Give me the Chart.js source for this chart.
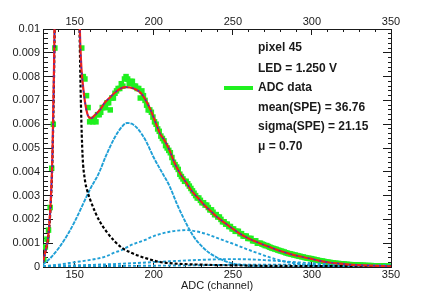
<!DOCTYPE html>
<html>
<head>
<meta charset="utf-8">
<script src="https://cdn.jsdelivr.net/npm/chart.js@4.4.1/dist/chart.umd.min.js"></script>
<style>
  html, body { margin: 0; padding: 0; background: #fff; }
  #wrap { width: 436px; height: 297px; }
</style>
</head>
<body>
<div id="wrap"><canvas id="spe"></canvas></div>
<script>
// ADC histogram, one bin per channel, first bin centre at 130.5 (null = off scale)
const firstBin = 130.5;
const adcCounts = [
  0.0003, 0.00084, 0.00117, 0.00155, 0.0025, 0.00415, 0.006, 0.0092,          // 130.5 - 137.5
  null, null, null, null, null, null, null, null,                             // 138.5 - 145.5
  null, null, null, null, null, null, null, null,                             // 146.5 - 153.5
  0.0092, 0.0080, 0.0079, 0.0072, 0.0067, 0.0061,                             // 154.5 - 159.5
  0.0062, 0.0061, 0.0062, 0.0061, 0.0064, 0.0064, 0.0065, 0.0067, 0.0067, 0.0067, // 160.5 -
  0.0069, 0.0069, 0.0066, 0.0071, 0.0071, 0.0073, 0.0074, 0.0075, 0.0075, 0.0077, // 170.5 -
  0.0076, 0.0079, 0.0080, 0.0079, 0.0077, 0.0078, 0.0078, 0.0076, 0.0076, 0.0075, // 180.5 -
  0.0075, 0.0071, 0.0074, 0.0072, 0.0070, 0.0068, 0.0066, 0.0066, 0.0065, 0.0063, // 190.5 -
  0.0061, 0.0060, 0.0058, 0.0057, 0.0055, 0.0054, 0.0053, 0.0051, 0.0050, 0.0049, // 200.5 -
  0.0048, 0.0046, 0.0044, 0.0043, 0.0042, 0.0041, 0.0039, 0.0038, 0.0037, 0.0036, // 210.5 -
  0.0036, 0.0035, 0.0034, 0.0033, 0.0032, 0.0031, 0.0030, 0.0029, 0.0029, 0.0028, // 220.5 -
  0.0027, 0.0027, 0.0026, 0.0026, 0.0025, 0.0024, 0.0024, 0.0023, 0.0022, 0.0022, // 230.5 -
  0.0021, 0.0021, 0.0020, 0.0019, 0.0019, 0.0018, 0.0018, 0.0017, 0.0017, 0.0016, // 240.5 -
  0.0016, 0.0015, 0.0015, 0.0015, 0.0014, 0.0014, 0.0013, 0.0013, 0.0013, 0.0012, // 250.5 -
  0.0012, 0.0012, 0.0011, 0.0011, 0.0011, 0.0010, 0.0010, 0.0010, 0.00096, 0.00094, // 260.5 -
  0.0009, 0.0009, 0.00086, 0.00083, 0.0008, 0.00078, 0.00076, 0.00074, 0.00071, 0.00069, // 270.5 -
  0.00067, 0.00065, 0.00063, 0.0006, 0.00058, 0.00056, 0.00055, 0.00053, 0.00051, 0.0005, // 280.5 -
  0.00048, 0.00046, 0.00045, 0.00043, 0.00042, 0.0004, 0.00038, 0.00037, 0.00036, 0.00035, // 290.5 -
  0.00033, 0.00032, 0.0003, 0.00029, 0.00027, 0.00026, 0.00025, 0.00024, 0.00022, 0.00021, // 300.5 -
  0.0002, 0.00019, 0.00018, 0.00017, 0.00016, 0.00015, 0.00015, 0.00014, 0.00013, 0.00013, // 310.5 -
  0.00012, 0.00011, 0.00011, 0.0001, 0.0001, 0.00009, 0.00009, 0.00009, 0.00008, 0.00008, // 320.5 -
  0.00008, 0.00007, 0.00007, 0.00007, 0.00006, 0.00006, 0.00006, 0.00006, 0.00005, 0.00005, // 330.5 -
  0.00005, 0.00005, 0.00004, 0.00004, 0.00004, 0.00004, 0.00004, 0.00003, 0.00003, 0.00003  // 340.5 - 349.5
];

// total fit
const fitX = [130, 131, 132, 133, 134, 135, 136, 137, 138, 139, 142, 146, 150, 152, 153, 154, 155, 156, 157,
  158.5, 160.5, 163, 166, 169, 172, 175, 178.5, 182, 185, 189, 192, 195, 198, 201, 204, 207, 210, 213, 216,
  220, 224, 228, 232, 236, 240, 244, 248, 254, 260, 267, 274, 280, 286, 292, 299, 305, 311, 318, 324, 337, 350];
const fitY = [0.0002, 0.0005, 0.0008, 0.0011, 0.0018, 0.0029, 0.0048, 0.0085, 0.014, 0.022, 0.05, 0.06, 0.045,
  0.016, 0.0108, 0.0087, 0.0078, 0.0072, 0.00675, 0.00635, 0.00625, 0.0064, 0.0066, 0.0069, 0.0071, 0.0073,
  0.00748, 0.00756, 0.00754, 0.00745, 0.0073, 0.0070, 0.0066, 0.0061, 0.0056, 0.0053, 0.0049, 0.0044, 0.0040,
  0.0036, 0.0032, 0.0029, 0.0026, 0.00235, 0.0021, 0.0019, 0.0017, 0.00142, 0.0012, 0.001, 0.00082, 0.00067,
  0.00055, 0.00045, 0.00035, 0.00026, 0.00019, 0.00014, 0.0001, 0.00006, 0.00003];

// pedestal component
const pedX = [130, 131, 132, 133, 134, 135, 136, 137, 138, 139, 142, 146, 150, 152, 153, 154, 155, 156.4, 158,
  160, 163, 166, 170, 175, 180, 185, 190, 196, 203, 210, 220, 230, 240, 250, 270, 300, 350];
const pedY = [0.0002, 0.0005, 0.0008, 0.0011, 0.0017, 0.0028, 0.0046, 0.0082, 0.0135, 0.021, 0.05, 0.06, 0.045,
  0.016, 0.0105, 0.0068, 0.0047, 0.0037, 0.0032, 0.0028, 0.0023, 0.0019, 0.0015, 0.0011, 0.0008, 0.00062,
  0.00048, 0.00035, 0.00022, 0.00016, 0.00012, 0.0001, 0.00008, 0.00007, 0.00005, 0.00004, 0.00003];

// 1, 2, 3, 4 photo-electron components
const pe1X = [130, 135, 140, 145, 150, 155, 160, 165, 170, 175, 180, 183, 186, 190, 195, 200, 205, 210, 215,
  220, 225, 230, 235, 240, 245, 250, 260, 270, 290, 350];
const pe1Y = [0.0001, 0.0004, 0.0008, 0.0013, 0.0019, 0.0026, 0.0033, 0.0039, 0.0047, 0.0054, 0.0059, 0.00605,
  0.00602, 0.0058, 0.0053, 0.0046, 0.0040, 0.0034, 0.0026, 0.0019, 0.0013, 0.0009, 0.0006, 0.0004, 0.00025,
  0.00015, 0.00005, 0.00002, 0, 0];
const pe2X = [130, 140, 150, 160, 165, 170, 175, 180, 185, 190, 195, 200, 205, 210, 215, 220, 225, 230, 235,
  240, 245, 250, 255, 260, 265, 270, 275, 280, 285, 290, 300, 310, 320, 335, 350];
const pe2Y = [0.00003, 0.0001, 0.0002, 0.0003, 0.00036, 0.00045, 0.0006, 0.00072, 0.0009, 0.00103, 0.00115,
  0.0013, 0.0014, 0.00148, 0.00153, 0.00155, 0.00152, 0.00145, 0.00135, 0.00122, 0.0011, 0.00098, 0.00085,
  0.00072, 0.0006, 0.00048, 0.00037, 0.00028, 0.0002, 0.00015, 0.00007, 0.00003, 0.00001, 0, 0];
const pe3X = [130, 150, 170, 190, 210, 230, 250, 260, 270, 290, 310, 330, 350];
const pe3Y = [0.00004, 0.00007, 0.00011, 0.00017, 0.00024, 0.0003, 0.00033, 0.00032, 0.00029, 0.0002, 0.00012,
  0.00006, 0.00003];
const pe4X = [130, 170, 210, 250, 290, 320, 350];
const pe4Y = [0.00002, 0.00004, 0.00006, 0.00009, 0.0001, 0.00009, 0.00007];

const infoLines = ["pixel 45", "LED = 1.250 V", "ADC data", "mean(SPE) = 36.76", "sigma(SPE) = 21.15", "\u03bc = 0.70"];

const FONT = "'Liberation Sans', Arial, Helvetica, sans-serif";
const GREEN = "#1ff01f";
const AZURE = "#1f9fd6";
const INK = "#1a1a1a";

const pts = (xs, ys) => xs.map((x, i) => ({ x, y: ys[i] }));
const adcPoints = adcCounts
  .map((y, i) => ({ x: firstBin + i, y }))
  .filter((p) => p.y !== null);

const isMajorX = (v) => Math.round(v) % 50 === 0;
const isMajorY = (v) => Math.round(v * 10000) % 10 === 0;

// ROOT-like inward ticks; minor ticks shortened with a dash pattern
function xAxis(pos, showTitle) {
  const major = 6, minor = 3;
  return {
    type: "linear",
    position: pos,
    min: 130,
    max: 350,
    ticks: {
      stepSize: 10,
      autoSkip: false,
      maxRotation: 0,
      padding: pos === "bottom" ? 7 : 6,
      color: INK,
      font: { family: FONT, size: 11 },
      callback: (v) => (isMajorX(v) ? String(v) : ""),
    },
    grid: {
      drawOnChartArea: false,
      drawTicks: true,
      tickLength: -major,
      tickColor: INK,
      tickWidth: 1,
      tickBorderDash: (c) => (isMajorX(c.tick.value) ? [] : pos === "bottom" ? [minor, 50] : [0, major - minor, minor, 50]),
    },
    border: { display: true, color: INK, width: 1 },
    title: {
      display: showTitle,
      text: "ADC (channel)",
      color: INK,
      font: { family: FONT, size: 11 },
      padding: { top: 0, bottom: 4 },
    },
    afterFit: (s) => { s.height = pos === "bottom" ? 30 : 29; },
  };
}

function yAxis(pos) {
  const major = pos === "left" ? 10 : 8, minor = major / 2;
  return {
    type: "linear",
    position: pos,
    min: 0,
    max: 0.01,
    ticks: {
      stepSize: 0.0002,
      autoSkip: false,
      padding: 13,
      color: INK,
      font: { family: FONT, size: 11 },
      callback: (v) => (pos === "left" && isMajorY(v) ? (v === 0 ? "0" : String(+v.toFixed(4))) : ""),
    },
    grid: {
      drawOnChartArea: false,
      drawTicks: true,
      tickLength: -major,
      tickColor: INK,
      tickWidth: 1,
      tickBorderDash: (c) => (isMajorY(c.tick.value) ? [] : pos === "right" ? [minor, 50] : [0, major - minor, minor, 50]),
    },
    border: { display: true, color: INK, width: 1 },
    afterFit: (s) => { s.width = pos === "left" ? 43 : 45; },
  };
}

const curve = (label, data, color, width, dash) => ({
  label,
  data,
  borderColor: color,
  backgroundColor: color,
  borderWidth: width,
  borderDash: dash,
  pointRadius: 0,
  fill: false,
  tension: 0.4,
  cubicInterpolationMode: "monotone",
  xAxisID: "x",
  yAxisID: "y",
});

const infoPlugin = {
  id: "infoText",
  afterDatasetsDraw(chart) {
    const { ctx } = chart;
    const left = 258;
    const rows = [48, 68.5, 88, 107.5, 127, 146.5];
    ctx.save();
    ctx.fillStyle = INK;
    ctx.textBaseline = "middle";
    ctx.font = "bold 12px " + FONT;
    infoLines.forEach((t, i) => ctx.fillText(t, left, rows[i]));
    ctx.strokeStyle = GREEN;
    ctx.lineWidth = 4;
    ctx.beginPath();
    ctx.moveTo(224, rows[2]);
    ctx.lineTo(253, rows[2]);
    ctx.stroke();
    ctx.restore();
  },
};

Chart.defaults.font.family = FONT;

new Chart(document.getElementById("spe"), {
  type: "line",
  data: {
    datasets: [
      curve("fit (overlay)", pts(fitX, fitY), "#2636d8", 1.2, [2, 4]),
      curve("fit", pts(fitX, fitY), "#f0201c", 2.2, []),
      curve("pedestal", pts(pedX, pedY), "#000000", 2.2, [3, 2]),
      curve("1 p.e.", pts(pe1X, pe1Y), AZURE, 1.9, [4, 1]),
      curve("2 p.e.", pts(pe2X, pe2Y), AZURE, 1.9, [3, 2]),
      curve("3 p.e.", pts(pe3X, pe3Y), AZURE, 1.9, [3, 2]),
      curve("4 p.e.", pts(pe4X, pe4Y), AZURE, 1.9, [3, 2]),
      {
        label: "ADC data",
        data: adcPoints,
        showLine: false,
        pointStyle: "rect",
        pointRadius: 3.9,
        pointBorderWidth: 0,
        backgroundColor: GREEN,
        borderColor: GREEN,
        xAxisID: "x",
        yAxisID: "y",
      },
    ],
  },
  options: {
    responsive: true,
    maintainAspectRatio: false,
    animation: false,
    layout: { padding: 0 },
    plugins: { legend: { display: false }, tooltip: { enabled: false } },
    scales: {
      x: xAxis("bottom", true),
      x2: xAxis("top", false),
      y: yAxis("left"),
      y2: yAxis("right"),
    },
  },
  plugins: [infoPlugin],
});
</script>
</body>
</html>
